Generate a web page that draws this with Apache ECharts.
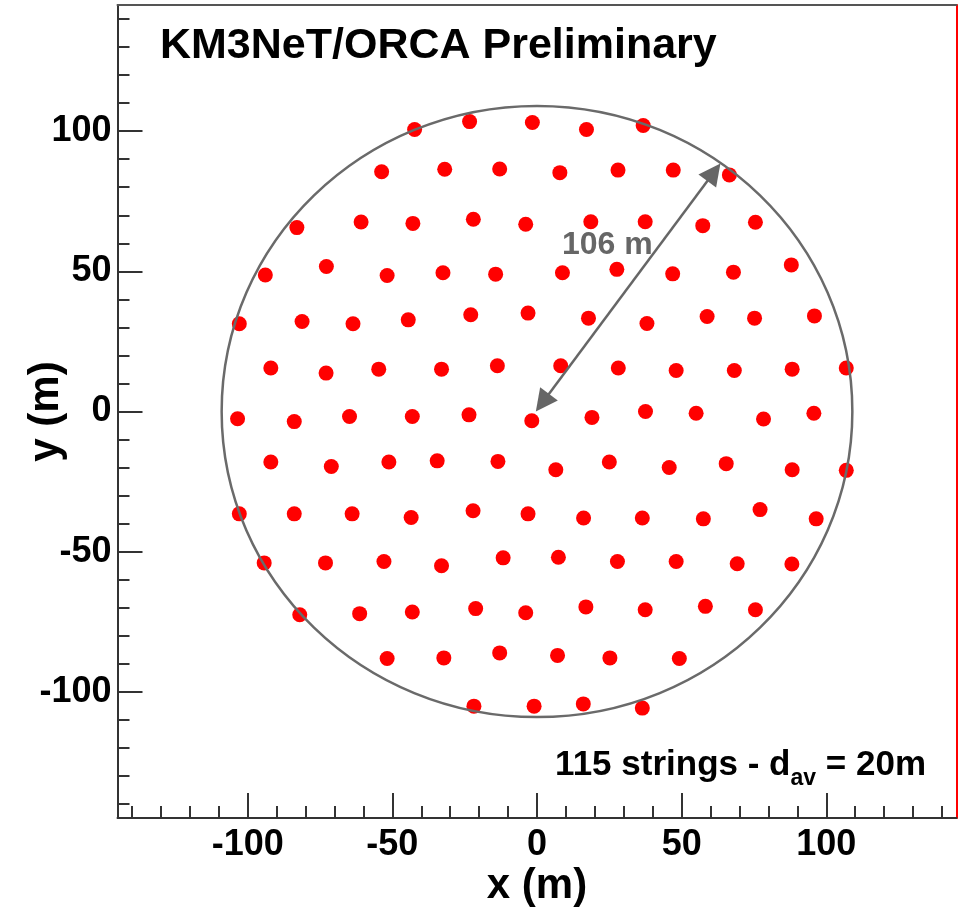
<!DOCTYPE html>
<html>
<head>
<meta charset="utf-8">
<script src="https://cdn.jsdelivr.net/npm/echarts@6/dist/echarts.min.js"></script>
<style>
html,body{margin:0;padding:0;background:#fff;}
#chart{width:958px;height:907px;}
</style>
</head>
<body>
<div id="chart"></div>
<script>
// ---- data ----
const axisMin = -145;
const axisMax = 145;
const majorTicks = [-100, -50, 0, 50, 100];
const tickLabels = [-100, -50, 0, 50, 100];
const minorTicks = [-140,-130,-120,-110,-100,-90,-80,-70,-60,-50,-40,-30,-20,-10,0,10,20,30,40,50,60,70,80,90,100,110,120,130,140];

// string positions (m), listed row by row from top to bottom
const stringsX = [
  -42.3, -23.3, -1.6, 17.1, 36.7,
  -53.7, -31.9, -12.9, 7.9, 28.0, 47.1, 66.5,
  -83.0, -60.8, -42.9, -22.0, -3.9, 18.6, 37.4, 57.3, 75.5,
  -93.9, -72.8, -51.8, -32.5, -14.3, 8.8, 27.6, 46.9, 67.9, 87.9,
  -102.9, -81.2, -63.6, -44.5, -22.9, -3.1, 17.8, 38.0, 58.8, 75.2, 95.9,
  -92.0, -72.9, -54.7, -33.0, -13.7, 8.2, 28.1, 48.1, 68.2, 88.2, 106.9,
  -103.5, -83.9, -64.8, -43.1, -23.5, -1.8, 19.0, 37.5, 55.0, 78.3, 95.7,
  -92.0, -71.1, -51.2, -34.5, -13.5, 6.5, 25.0, 45.7, 65.4, 88.2, 106.9,
  -102.9, -83.9, -63.9, -43.5, -22.1, -3.1, 16.1, 36.4, 57.5, 77.1, 96.5,
  -94.3, -73.1, -52.9, -33.0, -11.7, 7.4, 27.8, 48.1, 69.2, 88.1,
  -82.0, -61.3, -43.1, -21.2, -3.9, 16.9, 37.4, 58.2, 75.5,
  -51.8, -32.2, -12.9, 7.1, 25.2, 49.2,
  -21.8, -1.0, 16.0, 36.4
];
const stringsY = [
  100.6, 103.4, 103.1, 100.6, 102.0,
  85.5, 86.4, 86.5, 85.2, 86.1, 86.1, 84.4,
  65.6, 67.6, 67.1, 68.6, 66.8, 67.7, 67.7, 66.3, 67.5,
  48.7, 51.7, 48.5, 49.5, 49.0, 49.5, 50.7, 49.1, 49.7, 52.3,
  31.3, 32.1, 31.3, 32.7, 34.5, 35.1, 33.3, 31.4, 33.9, 33.3, 34.1,
  15.5, 13.7, 15.1, 15.1, 16.3, 16.3, 15.5, 14.6, 14.6, 15.1, 15.5,
  -2.6, -3.6, -1.8, -1.8, -1.2, -3.3, -2.1, 0.0, -0.6, -2.7, -0.6,
  -18.0, -19.6, -18.0, -17.6, -17.8, -20.8, -18.0, -20.0, -18.6, -20.8, -21.0,
  -36.5, -36.5, -36.5, -37.8, -35.4, -36.5, -38.0, -38.0, -38.3, -35.0, -38.3,
  -54.0, -54.0, -53.5, -55.0, -52.2, -52.0, -53.5, -53.5, -54.3, -54.4,
  -72.5, -72.1, -71.5, -70.3, -71.8, -69.7, -70.7, -69.5, -70.7,
  -88.1, -87.9, -86.1, -87.0, -87.9, -88.1,
  -105.1, -105.1, -104.3, -105.8
];

const circleCenter = [0, 0];
const circleRadius = 109;
const arrowFrom = [-0.4, 0.0];
const arrowTo = [63.4, 88.5];

const titleText = 'KM3NeT/ORCA Preliminary';
const radiusLabel = '106 m';
const infoText = '115 strings - d{sub|av} = 20m';

// ---- chart ----
const FONT = 'Liberation Sans';
const chart = echarts.init(document.getElementById('chart'), null, {renderer: 'canvas'});

const points = stringsX.map((x, i) => [x, stringsY[i]]);

function baseAxis(extra) {
  return Object.assign({
    type: 'value', min: axisMin, max: axisMax, gridIndex: 0,
    splitLine: {show: false},
    axisLine: {show: false, onZero: false},
    axisTick: {show: false},
    axisLabel: {show: false}
  }, extra);
}

const labelStyle = {fontFamily: FONT, fontWeight: 'bold', fontSize: 36, color: '#000'};
const nameStyle = {fontFamily: FONT, fontWeight: 'bold', fontSize: 42, color: '#000'};

const option = {
  animation: false,
  backgroundColor: '#fff',
  grid: {left: 117.5, right: 1.5, top: 5, bottom: 89, containLabel: false, outerBoundsMode: 'none'},
  xAxis: [
    baseAxis({
      position: 'bottom',
      axisLine: {show: true, onZero: false, lineStyle: {color: '#333', width: 2}},
      axisTick: {show: true, inside: true, length: 25, customValues: majorTicks, lineStyle: {color: '#333', width: 2}},
      axisLabel: Object.assign({show: true, margin: 9, customValues: tickLabels}, labelStyle),
      name: 'x (m)', nameLocation: 'middle', nameGap: 47, nameMoveOverlap: false, nameTextStyle: nameStyle
    }),
    baseAxis({
      position: 'bottom',
      axisTick: {show: true, inside: true, length: 12, customValues: minorTicks, lineStyle: {color: '#333', width: 2}}
    }),
    baseAxis({
      position: 'top',
      axisLine: {show: true, onZero: false, lineStyle: {color: '#555', width: 2}}
    })
  ],
  yAxis: [
    baseAxis({
      position: 'left',
      axisLine: {show: true, onZero: false, lineStyle: {color: '#333', width: 2}},
      axisTick: {show: true, inside: true, length: 25, customValues: majorTicks, lineStyle: {color: '#333', width: 2}},
      axisLabel: Object.assign({show: true, margin: 6, customValues: tickLabels}, labelStyle),
      name: 'y (m)', nameLocation: 'middle', nameGap: 50, nameMoveOverlap: false, nameTextStyle: nameStyle
    }),
    baseAxis({
      position: 'left',
      axisTick: {show: true, inside: true, length: 12, customValues: minorTicks, lineStyle: {color: '#333', width: 2}}
    }),
    baseAxis({
      position: 'right',
      axisLine: {show: true, onZero: false, lineStyle: {color: '#ff0000', width: 2}}
    })
  ],
  graphic: [
    {type: 'text', x: 160, y: 46, z: 10,
      style: {text: titleText, font: 'bold 43px "' + FONT + '"', fill: '#000', align: 'left', verticalAlign: 'middle'}},
    {type: 'text', x: 562, y: 245, z: 10,
      style: {text: radiusLabel, font: 'bold 32px "' + FONT + '"', fill: '#666', align: 'left', verticalAlign: 'middle'}},
    {type: 'text', x: 926, y: 765, z: 10,
      style: {text: infoText, fontFamily: FONT, fontWeight: 'bold', fontSize: 35, lineHeight: 50, fill: '#000',
        align: 'right', verticalAlign: 'middle',
        rich: {sub: {fontFamily: FONT, fontWeight: 'bold', fontSize: 23, lineHeight: 16, verticalAlign: 'bottom', fill: '#000'}}}}
  ],
  series: [
    {
      type: 'scatter', xAxisIndex: 0, yAxisIndex: 0, z: 2,
      symbol: 'circle', symbolSize: 15,
      itemStyle: {color: '#ff0000', opacity: 1},
      data: points, silent: true
    },
    {
      type: 'custom', xAxisIndex: 0, yAxisIndex: 0, z: 3, silent: true,
      data: [[circleCenter[0], circleCenter[1], circleRadius]],
      renderItem: function (params, api) {
        const c = api.coord([api.value(0), api.value(1)]);
        const s = api.size([api.value(2), api.value(2)]);
        return {
          type: 'ellipse',
          shape: {cx: c[0], cy: c[1], rx: s[0], ry: s[1]},
          style: {fill: 'none', stroke: '#6a6a6a', lineWidth: 2.5}
        };
      }
    },
    {
      type: 'custom', xAxisIndex: 0, yAxisIndex: 0, z: 4, silent: true,
      data: [[arrowFrom[0], arrowFrom[1], arrowTo[0], arrowTo[1]]],
      renderItem: function (params, api) {
        const a = api.coord([api.value(0), api.value(1)]);
        const b = api.coord([api.value(2), api.value(3)]);
        const dx = b[0] - a[0], dy = b[1] - a[1];
        const L = Math.hypot(dx, dy);
        const ux = dx / L, uy = dy / L, px = -uy, py = ux;
        const hl = 22, hw = 11;
        function head(tip, dx1, dy1) {
          return [
            [tip[0], tip[1]],
            [tip[0] - dx1 * hl + px * hw, tip[1] - dy1 * hl + py * hw],
            [tip[0] - dx1 * hl - px * hw, tip[1] - dy1 * hl - py * hw]
          ];
        }
        return {
          type: 'group',
          children: [
            {type: 'line', shape: {x1: a[0] + ux * 10, y1: a[1] + uy * 10, x2: b[0] - ux * 10, y2: b[1] - uy * 10},
              style: {stroke: '#666', lineWidth: 2.5}},
            {type: 'polygon', shape: {points: head(b, ux, uy)}, style: {fill: '#666'}},
            {type: 'polygon', shape: {points: head(a, -ux, -uy)}, style: {fill: '#666'}}
          ]
        };
      }
    }
  ]
};
chart.setOption(option);
</script>
</body>
</html>
